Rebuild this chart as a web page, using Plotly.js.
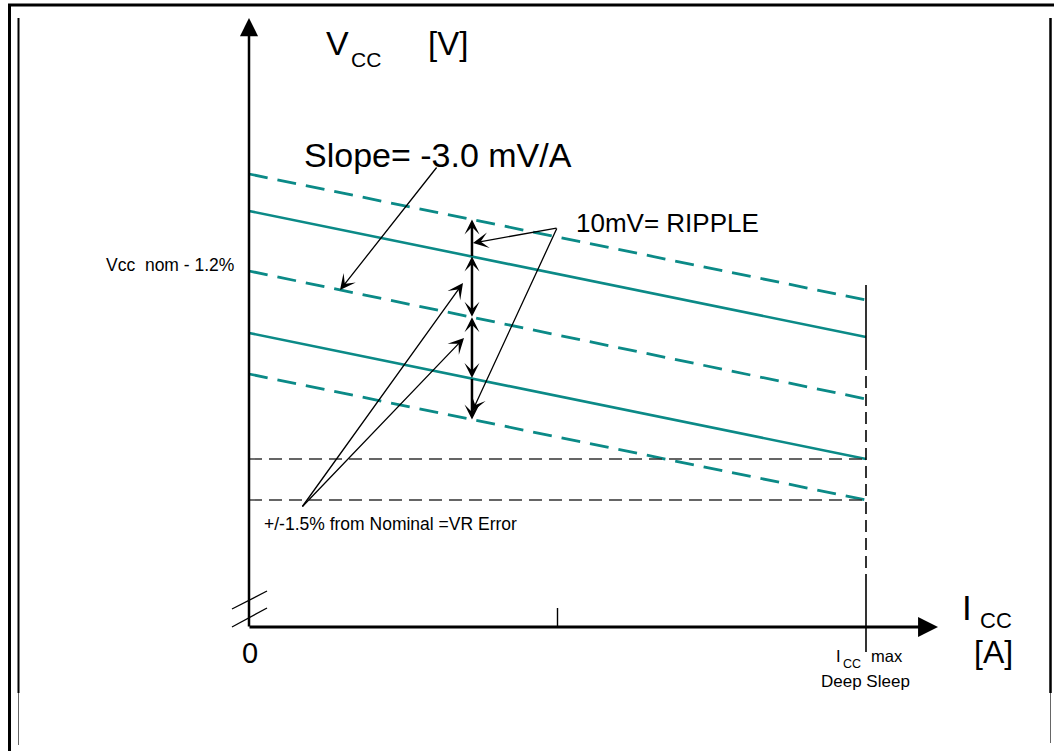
<!DOCTYPE html>
<html>
<head>
<meta charset="utf-8">
<script src="https://cdn.plot.ly/plotly-3.0.1.min.js"></script>
<style>html,body{margin:0;padding:0;background:#fff;}#chart{width:1054px;height:751px;}</style>
</head>
<body>
<div id="chart"></div>
<script>
// ---- data (x: Icc as fraction of Icc max Deep Sleep, y: Vcc in relative units) ----
const icc = [0, 1];
const vMaxRipple = [453, 327];      // upper dashed (max + ripple)
const vMax = [416, 290];            // upper solid (+1.5% VR error)
const vLoadLine = [356, 228];       // middle dashed (slope -3.0 mV/A)
const vMin = [294, 168];            // lower solid (-1.5% VR error)
const vMinRipple = [253, 127];      // lower dashed (min - ripple)
const limitHigh = [168, 168];       // horizontal black dashed
const limitLow = [127, 127];
const iccMaxSolid = [342, 269];     // vertical line at Icc max
const iccMaxDashed = [269, 45];
const iccMaxTick = [45, -25];
const midTickX = [0.5, 0.5];
const midTickY = [19, 0];
const breakX = [-0.0276, 0.0292];
const break1Y = [18, 36];
const break2Y = [0, 19];
const yAxisTop = 609;
const xAxisEnd = 1.1167;
const rippleX = 0.3614;
const rippleLevels = [407.5, 370.5, 309.7, 248.5, 207.5];
const tickLabelZero = '0';

const TEAL = '#0b8a87';
const FONT = 'Liberation Sans, Arial, sans-serif';

// pixel helpers for text placement
const X = px => (px - 249) / 617;
const Y = py => 627 - py;

function line(x, y, color, width, dash) {
  return {x: x, y: y, type: 'scatter', mode: 'lines', hoverinfo: 'skip',
          line: {color: color, width: width, dash: dash || 'solid'}};
}

const traces = [
  line(icc, vMaxRipple, TEAL, 2.8, '19px,10px'),
  line(icc, vMax, TEAL, 2.6),
  line(icc, vLoadLine, TEAL, 2.8, '19px,10px'),
  line(icc, vMin, TEAL, 2.6),
  line(icc, vMinRipple, TEAL, 2.8, '19px,10px'),
  line(icc, limitHigh, '#333', 1.4, '13px,7px'),
  line(icc, limitLow, '#333', 1.4, '13px,7px'),
  line([1, 1], iccMaxSolid, '#000', 1.6),
  line([1, 1], iccMaxDashed, '#000', 1.6, '12px,6px'),
  line([1, 1], iccMaxTick, '#000', 1.6),
  line(midTickX, midTickY, '#000', 1.4),
  line(breakX, break1Y, '#000', 1.3),
  line(breakX, break2Y, '#000', 1.3)
];

function txt(text, xpx, ypx, size, xanchor) {
  return {xref: 'x', yref: 'y', x: X(xpx), y: Y(ypx), text: text, showarrow: false,
          font: {size: size, family: FONT, color: '#000'},
          xanchor: xanchor || 'center', yanchor: 'middle'};
}
function arrow(x, y, ax, ay, head, size, width, both) {
  const a = {xref: 'x', yref: 'y', axref: 'x', ayref: 'y', x: x, y: y, ax: ax, ay: ay,
          text: '', showarrow: true, arrowhead: head, arrowsize: size, arrowwidth: width,
          arrowcolor: '#000', standoff: 0, startstandoff: 0, font: {size: 1}, borderpad: 0};
  if (both) { a.arrowside = 'end+start'; a.startarrowhead = head; a.startarrowsize = size; }
  return a;
}

const annotations = [
  // axes
  arrow(0, yAxisTop, 0, 0, 2, 1.45, 2.5),
  arrow(xAxisEnd, 0, 0, 0, 2, 1.33, 3),
  // ripple / VR error arrows
  arrow(rippleX, rippleLevels[0], rippleX, rippleLevels[1], 3, 1.0, 2.5),
  arrow(rippleX, rippleLevels[1], rippleX, rippleLevels[2], 3, 1.0, 2.5, true),
  arrow(rippleX, rippleLevels[2], rippleX, rippleLevels[3], 3, 1.0, 2.5, true),
  arrow(rippleX, rippleLevels[4], rippleX, rippleLevels[3], 3, 1.0, 2.5),
  // pointers
  arrow(0.1475, 337, 0.3047, 460, 3, 2.0, 1.3),
  arrow(0.3630, 384, 0.4992, 399, 3, 2.0, 1.3),
  arrow(0.3614, 215, 0.4992, 399, 3, 2.0, 1.3),
  arrow(0.3468, 344, 0.0859, 120, 3, 2.0, 1.3),
  arrow(0.3485, 289, 0.0859, 120, 3, 2.0, 1.3),
  // texts
  txt('V', 337, 42.5, 34),
  txt('CC', 366, 59, 21),
  txt('[V]', 447.5, 43, 33),
  txt('Slope= -3.0 mV/A', 438, 154.5, 34),
  txt('10mV= RIPPLE', 667.5, 222.5, 26),
  txt('Vcc\u00a0\u00a0nom - 1.2%', 170, 264.5, 17.5),
  txt('+/-1.5% from Nominal =VR Error', 390, 523.5, 17.5),
  txt(tickLabelZero, 250, 652.5, 29),
  txt('I', 967, 607.5, 35),
  txt('CC', 996, 620, 22),
  txt('[A]', 993, 651.5, 32),
  txt('I', 838, 656, 16.5),
  txt('CC', 851.5, 663.5, 12.5),
  txt('max', 887, 656, 16.5),
  txt('Deep Sleep', 865, 681.5, 17)
];

const W = 1054, H = 751;
function hl(x0, x1, y, w, c) { return {type: 'line', xref: 'paper', yref: 'paper', x0: x0 / W, x1: x1 / W, y0: 1 - y / H, y1: 1 - y / H, line: {color: c, width: w}}; }
function vl(x, y0, y1, w, c) { return {type: 'line', xref: 'paper', yref: 'paper', x0: x / W, x1: x / W, y0: 1 - y0 / H, y1: 1 - y1 / H, line: {color: c, width: w}}; }
const shapes = [
  hl(8, 1054, 5, 3, '#000'),
  vl(9.5, 4, 751, 3, '#000'),
  vl(18.5, 18, 693, 2, '#000'),
  vl(18.5, 693, 745, 1, '#666'),
  vl(1050.5, 18, 693, 2.5, '#000'),
  vl(1050.5, 693, 743, 1, '#666')
];

const layout = {
  width: W, height: H,
  margin: {l: 0, r: 0, t: 0, b: 0, pad: 0},
  paper_bgcolor: '#fff', plot_bgcolor: '#fff',
  showlegend: false,
  xaxis: {range: [-249 / 617, 805 / 617], visible: false, fixedrange: true},
  yaxis: {range: [-124, 627], visible: false, fixedrange: true},
  shapes: shapes,
  annotations: annotations
};

Plotly.newPlot('chart', traces, layout, {staticPlot: true, displayModeBar: false});
</script>
</body>
</html>
